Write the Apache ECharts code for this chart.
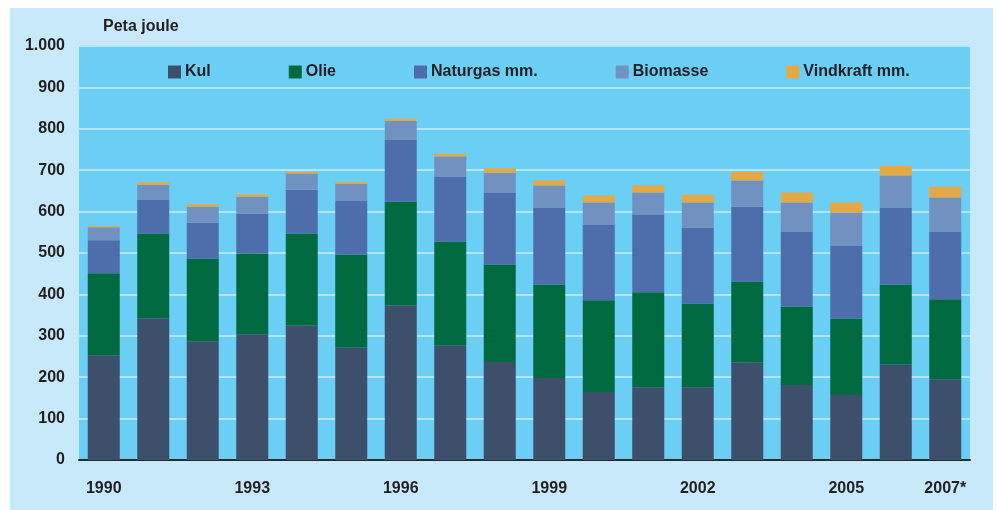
<!DOCTYPE html>
<html>
<head>
<meta charset="utf-8">
<script src="https://cdn.jsdelivr.net/npm/echarts@6/dist/echarts.min.js"></script>
<style>
  html, body { margin: 0; padding: 0; background: #ffffff; }
  #main { width: 997px; height: 510px; }
</style>
</head>
<body>
<div id="main"></div>
<script>
  const years = ['1990', '1991', '1992', '1993', '1994', '1995', '1996', '1997', '1998',
    '1999', '2000', '2001', '2002', '2003', '2004', '2005', '2006', '2007*']
  const shownYears = [0, 3, 6, 9, 12, 15, 17]
  const kul = [253, 342, 287, 304, 325, 272, 373, 277, 237, 198, 164, 176, 176, 236, 181, 157, 231, 195]
  const olie = [198, 205, 200, 195, 222, 224, 251, 251, 235, 226, 222, 229, 202, 195, 190, 185, 193, 193]
  const naturgas = [80, 82, 86, 96, 106, 131, 149, 156, 174, 186, 183, 188, 183, 181, 181, 176, 186, 164]
  const biomasse = [31, 36, 39, 41, 39, 40, 46, 49, 48, 53, 53, 53, 61, 63, 70, 80, 77, 82]
  const vindkraft = [3, 6, 6, 6, 4, 5, 5, 7, 11, 12, 17, 17, 19, 21, 24, 24, 24, 26]

  const font = 'Liberation Sans, Arial, sans-serif'
  const textColor = '#231f20'

  function bar(name, data, color) {
    return {
      name: name,
      type: 'bar',
      stack: 'total',
      barWidth: 32,
      data: data,
      itemStyle: { color: color },
    }
  }

  var myChart = echarts.init(document.getElementById('main'))
  var option = {
    animation: false,
    graphic: [
      {
        type: 'rect',
        z: -10,
        shape: { x: 10, y: 8, width: 983, height: 510 },
        style: { fill: '#c7e9f9' },
      },
      {
        type: 'text',
        left: 103,
        top: 19,
        style: { text: 'Peta joule', font: 'bold 16px ' + font, fill: textColor },
      },
    ],
    legend: {
      top: 64,
      left: 168,
      padding: 0,
      itemGap: 78,
      itemWidth: 13,
      itemHeight: 13,
      icon: 'rect',
      textStyle: { fontFamily: font, fontWeight: 'bold', fontSize: 16, color: textColor, padding: [0, 0, 0, -1] },
      data: ['Kul', 'Olie', 'Naturgas mm.', 'Biomasse', 'Vindkraft mm.'],
    },
    grid: {
      left: 79,
      right: 27,
      top: 46,
      bottom: 50,
      show: true,
      backgroundColor: '#6bcef5',
      borderWidth: 0,
    },
    xAxis: {
      type: 'category',
      data: years,
      axisTick: { show: false },
      axisLine: { lineStyle: { color: '#2b2b2b', width: 2 } },
      axisLabel: {
        interval: function (i) { return shownYears.indexOf(i) >= 0 },
        margin: 21,
        fontFamily: font,
        fontWeight: 'bold',
        fontSize: 16,
        color: textColor,
      },
    },
    yAxis: {
      type: 'value',
      min: 0,
      max: 1000,
      interval: 100,
      axisLine: { show: false },
      axisTick: { show: false },
      splitLine: { lineStyle: { color: '#b4e5fa', width: 2 } },
      axisLabel: {
        margin: 14,
        fontFamily: font,
        fontWeight: 'bold',
        fontSize: 16,
        color: textColor,
        formatter: function (v) { return v >= 1000 ? '1.000' : String(v) },
      },
    },
    series: [
      bar('Kul', kul, '#3e4f6c'),
      bar('Olie', olie, '#006940'),
      bar('Naturgas mm.', naturgas, '#4d6eab'),
      bar('Biomasse', biomasse, '#7192c0'),
      bar('Vindkraft mm.', vindkraft, '#e4a845'),
    ],
  }
  myChart.setOption(option)
</script>
</body>
</html>
